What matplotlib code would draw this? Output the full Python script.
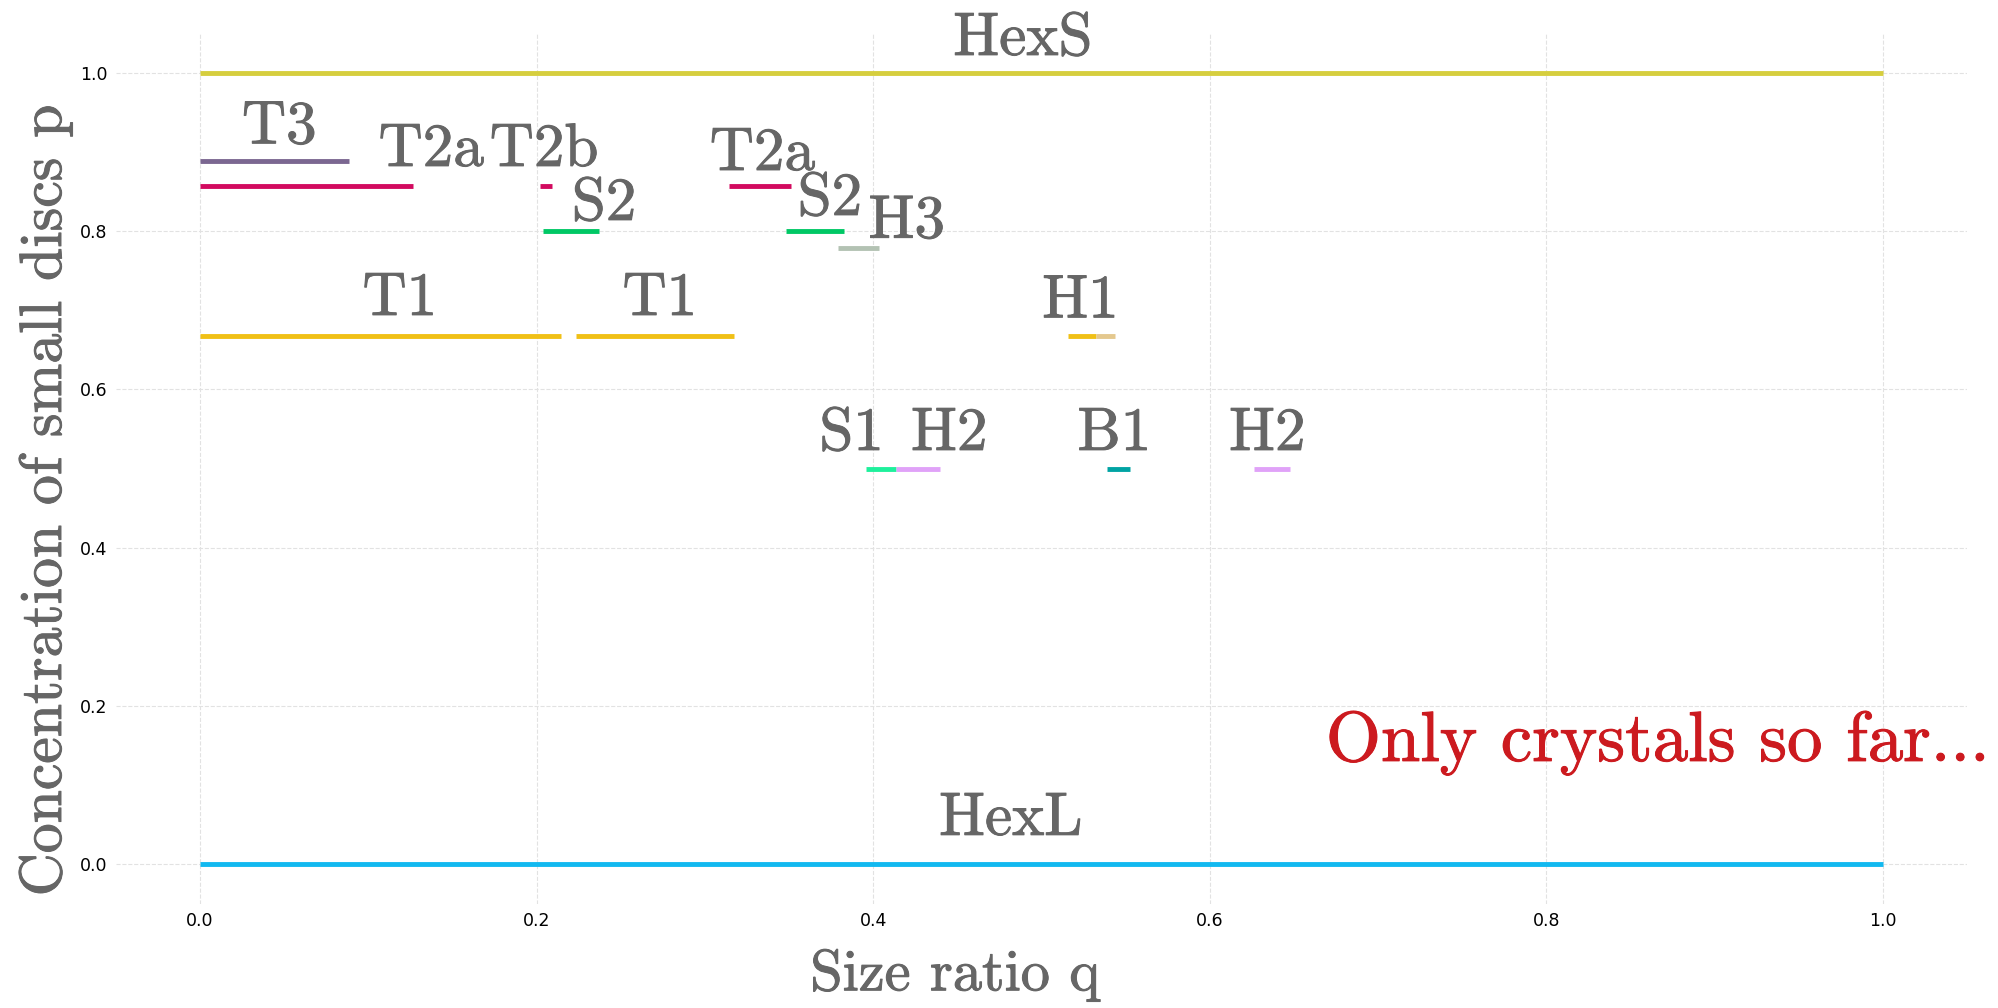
import matplotlib.pyplot as plt
import matplotlib.patheffects as pe

# crystal phases: size ratio range [q_lo, q_hi] at concentration p
phases = ["HexS", "T3", "T2a", "T2b", "S2", "T2a", "S2", "H3", "T1", "T1",
          "H1", "H1", "S1", "H2", "B1", "H2", "HexL"]
q_lo = [0.0, 0.0, 0.0, 0.2019, 0.2039, 0.3144, 0.3481, 0.3792, 0.0, 0.2233,
        0.5156, 0.5323, 0.3960, 0.4133, 0.5388, 0.6263, 0.0]
q_hi = [1.0, 0.0886, 0.1266, 0.2092, 0.2370, 0.3509, 0.3825, 0.4033, 0.2144, 0.3174,
        0.5323, 0.5434, 0.4133, 0.4396, 0.5529, 0.6476, 1.0]
p_val = [1.0, 0.889, 0.857, 0.857, 0.8, 0.857, 0.8, 0.778, 0.667, 0.667,
         0.667, 0.667, 0.5, 0.5, 0.5, 0.5, 0.0]
colors = ["#d6ce3e", "#7b6791", "#d20a5f", "#d20a5f", "#00c865", "#d20a5f", "#00c865",
          "#b3c2b3", "#f0c016", "#f0c016", "#f0c016", "#e4c88e", "#1ef09c", "#e0a2f8",
          "#00a3a3", "#e0a2f8", "#12b9f0"]

# phase names written on the chart and where they sit
label_text = ["HexS", "T3", "T2a", "T2b", "S2", "T2a", "S2", "H3", "T1", "T1",
              "H1", "S1", "H2", "B1", "H2", "HexL"]
label_q = [0.4889, 0.0471, 0.1373, 0.2044, 0.2400, 0.3341, 0.3742, 0.4200, 0.1187, 0.2732,
           0.5232, 0.3871, 0.4452, 0.5433, 0.6342, 0.4818]
label_p = [1.0224, 0.9108, 0.8822, 0.8822, 0.8140, 0.8771, 0.8203, 0.7916, 0.6940, 0.6940,
           0.6910, 0.5235, 0.5235, 0.5235, 0.5235, 0.0373]

serif = "cmr10"
grey = "#666666"
red = "#cc1a1f"

fig = plt.figure(figsize=(19.99, 10.08), dpi=100)
ax = fig.add_axes([0.058, 0.1032, 0.926, 0.864])

for a, b, p, c in zip(q_lo, q_hi, p_val, colors):
    ax.plot([a, b], [p, p], color=c, lw=3.5, solid_capstyle="butt")

# the labels in the original are a bit heavier than plain cmr10
thick = [pe.withStroke(linewidth=0.7, foreground=grey)]
for t, q, p in zip(label_text, label_q, label_p):
    ax.text(q, p, t, family=serif, fontsize=44, color=grey, ha="center", va="baseline",
            path_effects=thick)

ax.text(0.669, 0.1307, "Only crystals so far...", family=serif, fontsize=51,
        color=red, ha="left", va="baseline",
        path_effects=[pe.withStroke(linewidth=0.7, foreground=red)])

ax.set_xticks([0, 0.2, 0.4, 0.6, 0.8, 1.0])
ax.set_yticks([0, 0.2, 0.4, 0.6, 0.8, 1.0])
ax.tick_params(length=0, labelsize=12.5, pad=6)
ax.grid(True, ls="--", lw=0.8, color="#e2e2e2")
ax.set_axisbelow(True)
for s in ax.spines.values():
    s.set_visible(False)

ax.set_xlabel("Size ratio q", family=serif, fontsize=42, color=grey, path_effects=thick)
ax.set_ylabel("Concentration of small discs p", family=serif, fontsize=43, color=grey,
              path_effects=thick)
ax.xaxis.set_label_coords(0.4533, -0.052)
ax.yaxis.set_label_coords(-0.0232, 0.4633)

fig.savefig("out.png", dpi=100)
